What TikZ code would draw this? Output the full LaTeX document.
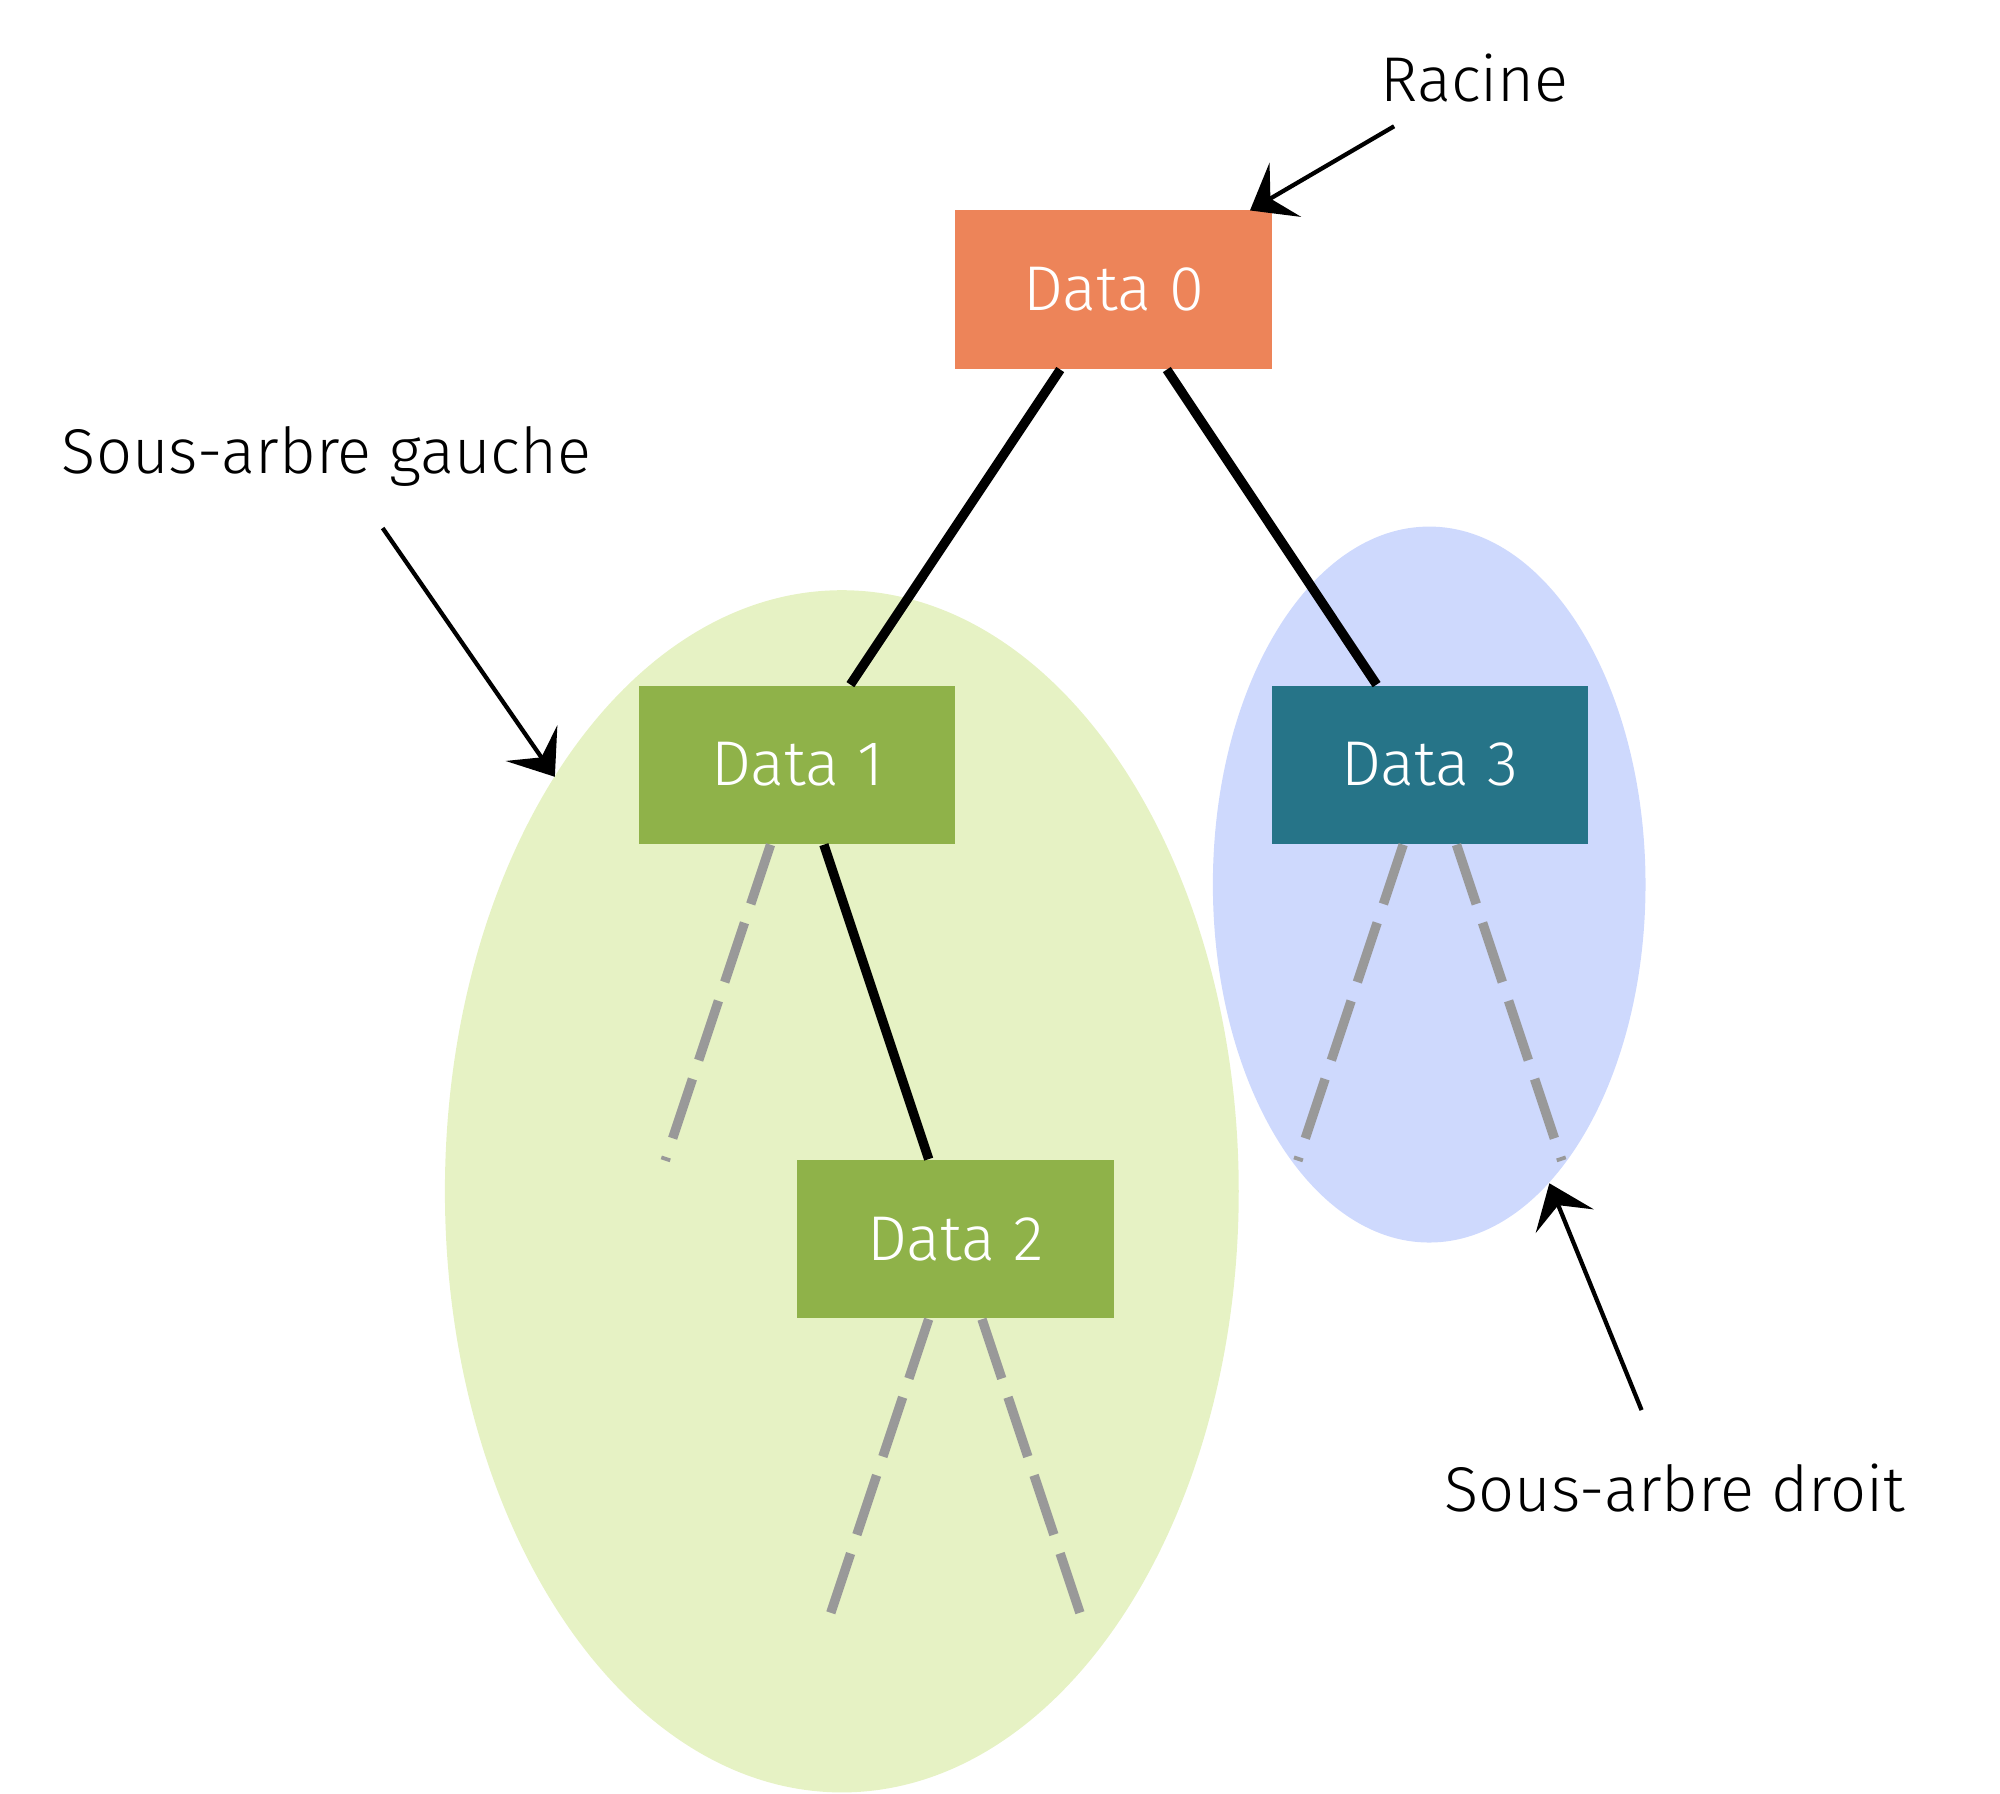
\documentclass[tikz,border=0pt]{standalone}
\usepackage{fontspec}
\setmainfont{Fira Sans Light}
\usetikzlibrary{arrows.meta}
\definecolor{rootc}{HTML}{ED8459}
\definecolor{greenc}{HTML}{8FB249}
\definecolor{tealc}{HTML}{267488}
\definecolor{greenbg}{HTML}{E6F2C4}
\definecolor{bluebg}{HTML}{CED9FD}
\definecolor{dashc}{HTML}{999999}
\tikzset{
  databox/.style={rectangle, inner sep=0pt, minimum width=2.48cm, minimum height=1.24cm,
    text=white, font=\fontsize{14.1}{16}\selectfont},
  label/.style={inner sep=0pt, anchor=base, font=\fontsize{14.1}{16}\selectfont},
  treeedge/.style={line width=2.1pt, black},
  leafedge/.style={line width=2.1pt, dashc, dash pattern=on 0.49cm off 0.155cm},
  pointer/.style={line width=0.95pt, black, -{Stealth[length=0.32cm, width=0.49cm, inset=0.135cm]}}
}
\begin{document}
\begin{tikzpicture}[x=0.01cm, y=-0.01cm]
\useasboundingbox (0,0) rectangle (1568,1406.5);
% background subtree ellipses
\fill[greenbg] (660,934) ellipse [x radius=3.11cm, y radius=4.71cm];
\fill[bluebg] (1120.5,693.5) ellipse [x radius=1.695cm, y radius=2.805cm];
% nodes
\node[databox, fill=rootc]  (d0) at (873,227)   {Data 0};
\node[databox, fill=greenc] (d1) at (625,599.5) {Data 1};
\node[databox, fill=tealc]  (d3) at (1121,599.5) {Data 3};
\node[databox, fill=greenc] (d2) at (749,971.5) {Data 2};
% empty children
\coordinate (d1l) at (521.5,910);
\coordinate (d3l) at (1017.5,910);
\coordinate (d3r) at (1224.5,910);
\coordinate (d2l) at (647.5,1276);
\coordinate (d2r) at (850.5,1276);
% edges
\draw[treeedge] (d0) -- (d1);
\draw[treeedge] (d0) -- (d3);
\draw[treeedge] (d1) -- (d2);
\draw[leafedge] (d1) -- (d1l);
\draw[leafedge] (d3) -- (d3l);
\draw[leafedge] (d3) -- (d3r);
\draw[leafedge] (d2) -- (d2l);
\draw[leafedge] (d2) -- (d2r);
% labels
\node[label] (racine) at (1156,79.7) {Racine};
\node[label] (gauche) at (256,371) {Sous-arbre gauche};
\node[label] (droit) at (1313,1185) {Sous-arbre droit};
% pointers
\coordinate (ras) at (1093,99);
\coordinate (rat) at (980,165);
\coordinate (gas) at (300,414);
\coordinate (gat) at (435,609);
\coordinate (drs) at (1287,1105.5);
\coordinate (drt) at (1214.7,927.7);
\draw[pointer] (ras) -- (rat);
\draw[pointer] (gas) -- (gat);
\draw[pointer] (drs) -- (drt);
\end{tikzpicture}
\end{document}
